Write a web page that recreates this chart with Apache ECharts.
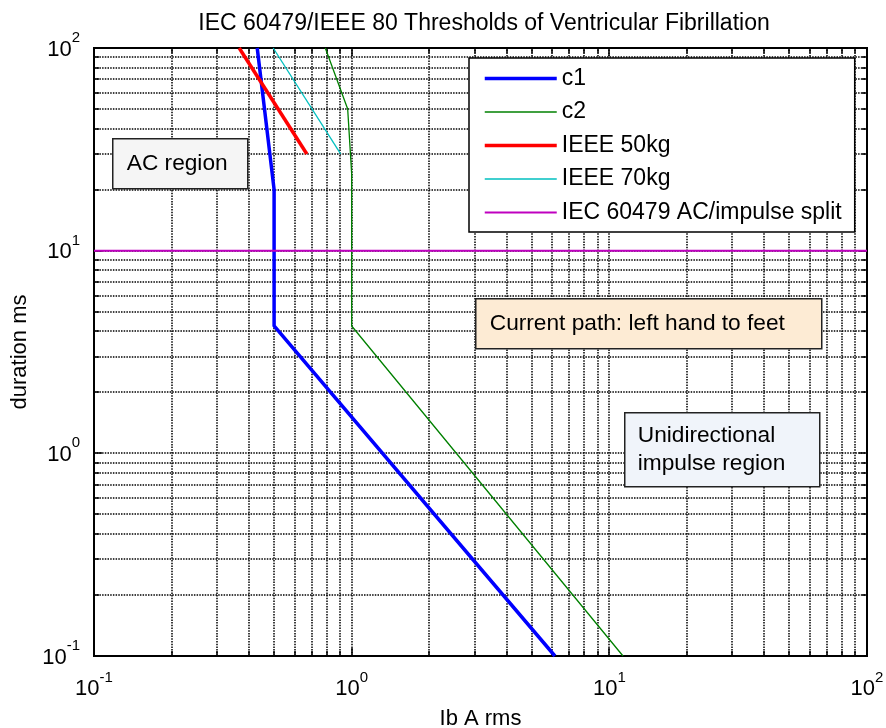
<!DOCTYPE html>
<html>
<head>
<meta charset="utf-8">
<script src="https://cdn.jsdelivr.net/npm/echarts@6/dist/echarts.min.js"></script>
<style>
html,body{margin:0;padding:0;background:#fff;}
#chart{width:886px;height:728px;}
</style>
</head>
<body>
<div id="chart"></div>
<script>
// ---- data ----
const c1Current = [0.43, 0.50, 0.50, 6.15];
const c1Duration = [100, 20, 4.25, 0.1];
const c2Current = [0.79, 0.965, 1.0, 1.0, 11.3];
const c2Duration = [100, 50, 24, 4.25, 0.1];
const ieee50Current = [0.366, 0.67];
const ieee50Duration = [100, 30];
const ieee70Current = [0.496, 0.906];
const ieee70Duration = [100, 30];
const splitCurrent = [0.1, 100];
const splitDuration = [10, 10];

const seriesNames = ['c1', 'c2', 'IEEE 50kg', 'IEEE 70kg', 'IEC 60479 AC/impulse split'];
const seriesColors = ['#0000FF', '#008000', '#FF0000', '#00BFBF', '#BF00BF'];
const seriesWidths = [3.5, 1.3, 3.5, 1.3, 2];

// axis ranges and grid ticks
const xMin = 0.1, xMax = 100, yMin = 0.1, yMax = 100;
const decadeStarts = [0.1, 1, 10];
const mantissas = [1, 2, 3, 4, 5, 6, 7, 8, 9];
const gridValues = [];
decadeStarts.forEach(d => mantissas.forEach(m => gridValues.push(+(d * m).toPrecision(6))));
gridValues.push(100);

const FONT = "'Liberation Sans', Arial, Helvetica, sans-serif";

function zip(a, b) { return a.map((v, i) => [v, b[i]]); }

function isMajor(v) {
  const l = Math.log10(v);
  return Math.abs(l - Math.round(l)) < 1e-6;
}

const dotStyle = { stroke: '#000', lineWidth: 1.5, lineDash: [1.5, 1.2] };
const tickStyle = { stroke: '#000', lineWidth: 1.5 };

function gridRender(vertical) {
  return function (params, api) {
    const v = vertical ? api.value(0) : api.value(1);
    let p1, p2;
    if (vertical) { p1 = api.coord([v, yMin]); p2 = api.coord([v, yMax]); }
    else { p1 = api.coord([xMin, v]); p2 = api.coord([xMax, v]); }
    const L = isMajor(v) ? 8 : 5;
    const children = [];
    if (vertical) {
      const x = Math.round(p1[0]);
      children.push({ type: 'line', shape: { x1: x, y1: p1[1], x2: x, y2: p2[1] }, style: dotStyle });
      children.push({ type: 'line', shape: { x1: x, y1: p1[1], x2: x, y2: p1[1] - L }, style: tickStyle });
      children.push({ type: 'line', shape: { x1: x, y1: p2[1], x2: x, y2: p2[1] + L }, style: tickStyle });
    } else {
      const y = Math.round(p1[1]);
      children.push({ type: 'line', shape: { x1: p1[0], y1: y, x2: p2[0], y2: y }, style: dotStyle });
      children.push({ type: 'line', shape: { x1: p1[0], y1: y, x2: p1[0] + L, y2: y }, style: tickStyle });
      children.push({ type: 'line', shape: { x1: p2[0], y1: y, x2: p2[0] - L, y2: y }, style: tickStyle });
    }
    return { type: 'group', children: children };
  };
}

function powLabel(value) {
  const e = Math.round(Math.log10(value));
  return '{b|10}{s|' + e + '}';
}

const labelRich = {
  b: { fontSize: 22, fontFamily: FONT, color: '#000', verticalAlign: 'bottom', lineHeight: 30 },
  s: { fontSize: 15, fontFamily: FONT, color: '#000', verticalAlign: 'top', lineHeight: 15 }
};

const chart = echarts.init(document.getElementById('chart'), null, { renderer: 'canvas' });

const lineSeries = [
  [c1Current, c1Duration],
  [c2Current, c2Duration],
  [ieee50Current, ieee50Duration],
  [ieee70Current, ieee70Duration],
  [splitCurrent, splitDuration]
].map((pair, i) => ({
  name: seriesNames[i], type: 'line', data: zip(pair[0], pair[1]), symbol: 'none', z: 5,
  lineStyle: { color: seriesColors[i], width: seriesWidths[i] },
  itemStyle: { color: seriesColors[i] }
}));

function textBox(left, top, w, h, fill, text, tx, lineHeight) {
  return { type: 'group', left: left, top: top, z: 100, children: [
    { type: 'rect', z: 100, shape: { x: 0, y: 0, width: w, height: h },
      style: { fill: fill, stroke: '#222', lineWidth: 1.5 } },
    { type: 'text', z: 101, x: tx, y: h / 2,
      style: { text: text, fontSize: 22.7, lineHeight: lineHeight, fontFamily: FONT, fill: '#000', verticalAlign: 'middle' } }
  ]};
}

const option = {
  backgroundColor: '#fff',
  animation: false,
  title: {
    text: 'IEC 60479/IEEE 80 Thresholds of Ventricular Fibrillation',
    left: 479, top: 7, textAlign: 'center',
    textStyle: { fontSize: 23, fontWeight: 'normal', fontFamily: FONT, color: '#000' }
  },
  grid: {
    left: 94, right: 19, top: 48, bottom: 72,
    outerBoundsMode: 'none', containLabel: false,
    show: true, borderColor: '#000', borderWidth: 2, backgroundColor: '#fff'
  },
  legend: {
    data: seriesNames.map((n, i) => ({
      name: n,
      lineStyle: { width: seriesWidths[i], color: seriesColors[i] },
      itemStyle: { color: 'rgba(0,0,0,0)', borderWidth: 0, opacity: 0 }
    })),
    orient: 'vertical',
    left: 469, top: 58, z: 50,
    padding: [9, 13, 8, 14],
    itemWidth: 72, itemHeight: 14, itemGap: 10.5,
    itemStyle: { color: 'rgba(0,0,0,0)', borderWidth: 0, opacity: 0 },
    backgroundColor: '#fff', borderColor: '#000', borderWidth: 1.5,
    textStyle: { fontSize: 23, fontFamily: FONT, color: '#000' },
    selectedMode: false
  },
  xAxis: {
    type: 'log', logBase: 10, min: xMin, max: xMax,
    name: 'Ib A rms', nameLocation: 'middle', nameGap: 52,
    nameTextStyle: { fontSize: 22, fontFamily: FONT, color: '#000' },
    axisLine: { show: true, lineStyle: { color: '#000', width: 2 } },
    axisTick: { show: false },
    splitLine: { show: false },
    axisLabel: { formatter: powLabel, rich: labelRich, margin: 14, color: '#000' }
  },
  yAxis: {
    type: 'log', logBase: 10, min: yMin, max: yMax,
    name: 'duration ms', nameLocation: 'middle', nameGap: 63,
    nameTextStyle: { fontSize: 22, fontFamily: FONT, color: '#000' },
    axisLine: { show: true, lineStyle: { color: '#000', width: 2 } },
    axisTick: { show: false },
    splitLine: { show: false },
    axisLabel: { formatter: powLabel, rich: labelRich, margin: 14, color: '#000', padding: [0, 0, 5, 0] }
  },
  series: [
    { name: 'gridX', type: 'custom', coordinateSystem: 'cartesian2d', z: 1, silent: true,
      data: gridValues.map(v => [v, 1]), renderItem: gridRender(true), encode: { x: 0, y: 1 } },
    { name: 'gridY', type: 'custom', coordinateSystem: 'cartesian2d', z: 1, silent: true,
      data: gridValues.map(v => [1, v]), renderItem: gridRender(false), encode: { x: 0, y: 1 } }
  ].concat(lineSeries),
  graphic: [
    textBox(112, 138, 135, 50, '#F5F5F5', 'AC region', 14, 26),
    textBox(475, 298, 346, 50, '#FDEBD4', 'Current path: left hand to feet', 14, 26),
    textBox(624, 412, 195, 74, '#F0F4FA', 'Unidirectional\nimpulse region', 13, 28)
  ]
};

chart.setOption(option);
</script>
</body>
</html>
